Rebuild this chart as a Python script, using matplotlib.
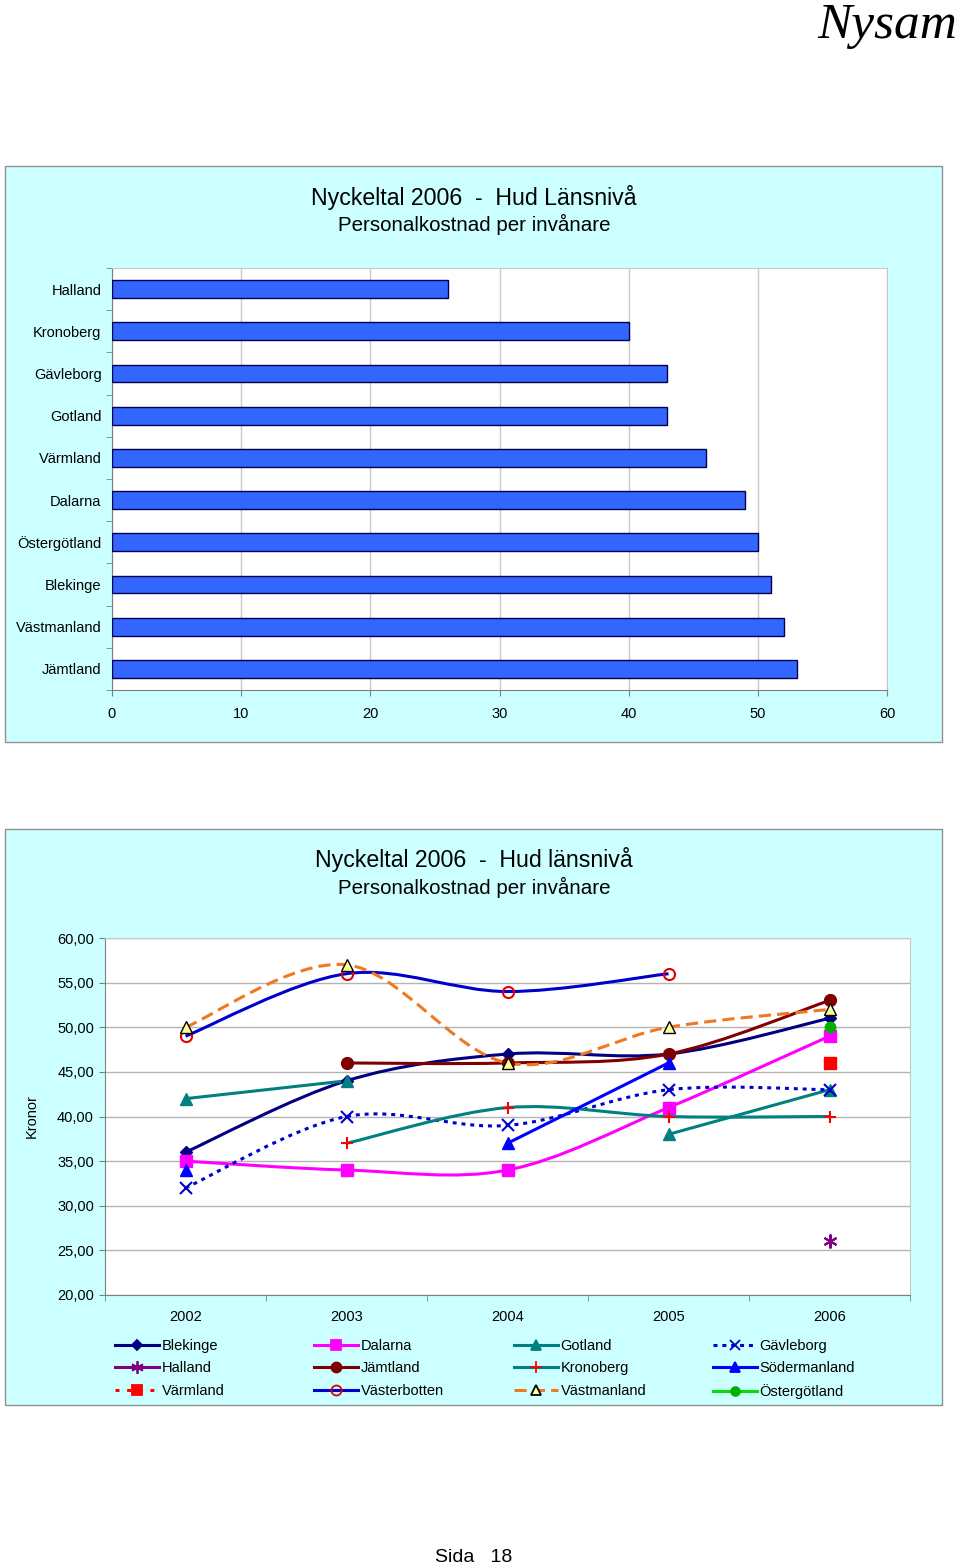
import numpy as np
import matplotlib
matplotlib.use("Agg")
import matplotlib.pyplot as plt
from matplotlib.patches import Rectangle, PathPatch
from matplotlib.path import Path
from matplotlib.lines import Line2D
from matplotlib.ticker import FixedLocator, FuncFormatter

plt.rcParams['font.family'] = ['Liberation Sans', 'DejaVu Sans']

W, H = 960, 1567
PANEL = '#CCFFFF'
nan = np.nan

# bar chart: 2006 values per county
lan_2006 = ['Halland', 'Kronoberg', 'Gävleborg', 'Gotland', 'Värmland',
            'Dalarna', 'Östergötland', 'Blekinge', 'Västmanland', 'Jämtland']
kost_2006 = [26, 40, 43, 43, 46, 49, 50, 51, 52, 53]

# line chart: 2002-2006 per county
years = ['2002', '2003', '2004', '2005', '2006']
blekinge = [36, 44, 47, 47, 51]
dalarna = [35, 34, 34, 41, 49]
gotland = [42, 44, nan, 38, 43]
gavleborg = [32, 40, 39, 43, 43]
halland = [nan, nan, nan, nan, 26]
jamtland = [nan, 46, 46, 47, 53]
kronoberg = [nan, 37, 41, 40, 40]
sodermanland = [34, nan, 37, 46, nan]
varmland = [nan, nan, nan, nan, 46]
vasterbotten = [49, 56, 54, 56, nan]
vastmanland = [50, 57, 46, 50, 52]
ostergotland = [nan, nan, nan, nan, 50]

# name, values, line colour, linestyle, marker, marker face, marker edge, marker size
series = [
    ('Blekinge', blekinge, '#000080', '-', 'D', '#000080', '#000080', 6),
    ('Dalarna', dalarna, '#FF00FF', '-', 's', '#FF00FF', '#FF00FF', 8),
    ('Gotland', gotland, '#008080', '-', '^', '#008080', '#008080', 8),
    ('Gävleborg', gavleborg, '#0000CC', (0, (1.3, 1.6)), 'x', '#0000CC', '#0000CC', 8),
    ('Halland', halland, '#800080', '-', (6, 2, 0), '#800080', '#800080', 10),
    ('Jämtland', jamtland, '#800000', '-', 'o', '#800000', '#800000', 8),
    ('Kronoberg', kronoberg, '#008080', '-', '+', '#FF0000', '#FF0000', 9),
    ('Södermanland', sodermanland, '#0000FF', '-', '^', '#0000FF', '#0000FF', 8),
    ('Värmland', varmland, '#FF0000', (0, (1.3, 2.5)), 's', '#FF0000', '#FF0000', 8),
    ('Västerbotten', vasterbotten, '#0000CC', '-', 'o', 'none', '#E00000', 8),
    ('Västmanland', vastmanland, '#F07820', (0, (4, 2)), '^', '#FFFF99', '#000000', 8),
    ('Östergötland', ostergotland, '#00E000', '-', 'o', '#00B000', '#00B000', 7),
]


def fx(px):
    return px / W


def fy(py):
    return 1 - py / H


def smooth_path(xs, ys):
    # Excel-style smoothed line: cubic bezier through the points
    verts = [(xs[0], ys[0])]
    codes = [Path.MOVETO]
    n = len(xs)
    for i in range(n - 1):
        a = i - 1 if i > 0 else i
        b = i + 2 if i + 2 < n else i + 1
        c1 = (xs[i] + (xs[i + 1] - xs[a]) / 6, ys[i] + (ys[i + 1] - ys[a]) / 6)
        c2 = (xs[i + 1] - (xs[b] - xs[i]) / 6, ys[i + 1] - (ys[b] - ys[i]) / 6)
        verts += [c1, c2, (xs[i + 1], ys[i + 1])]
        codes += [Path.CURVE4] * 3
    return Path(verts, codes)


fig = plt.figure(figsize=(W / 100, H / 100), dpi=100)

for top, bot in [(166, 742), (829, 1405)]:
    fig.add_artist(Rectangle((fx(5), fy(bot)), fx(942) - fx(5), fy(top) - fy(bot),
                             transform=fig.transFigure, facecolor=PANEL,
                             edgecolor='#909090', lw=1, zorder=-5))

fig.text(fx(957), fy(38), 'Nysam', family='Liberation Serif', style='italic',
         fontsize=37, ha='right', va='baseline')
fig.text(fx(474), fy(1557), 'Sida   18', fontsize=14, ha='center', va='center')

# ---- bar chart
ax1 = fig.add_axes([fx(112), fy(690), fx(887) - fx(112), fy(268) - fy(690)])
pos = np.arange(len(lan_2006))
ax1.barh(pos, kost_2006, height=0.42, color='#3366FF', edgecolor='#000050', lw=1, zorder=3)
ax1.set_xlim(0, 60)
ax1.set_ylim(len(lan_2006) - 0.5, -0.5)
ax1.set_xticks(range(0, 61, 10))
ax1.set_yticks(pos)
ax1.set_yticklabels(lan_2006)
ax1.yaxis.set_minor_locator(FixedLocator(np.arange(-0.5, len(lan_2006), 1)))
ax1.tick_params(axis='y', which='major', length=0, pad=7.5, labelsize=10.5)
ax1.tick_params(axis='y', which='minor', length=4, color='#808080')
ax1.tick_params(axis='x', length=4, color='#808080', pad=8, labelsize=10.5)
ax1.grid(axis='x', color='#C8C8C8', lw=1, zorder=0)
for s in ['top', 'right']:
    ax1.spines[s].set_color('#C8C8C8')
for s in ['left', 'bottom']:
    ax1.spines[s].set_color('#808080')
fig.text(fx(474), fy(197), 'Nyckeltal 2006  -  Hud Länsnivå', fontsize=16.7,
         ha='center', va='center')
fig.text(fx(474), fy(224), 'Personalkostnad per invånare', fontsize=14.8,
         ha='center', va='center')

# ---- line chart
ax2 = fig.add_axes([fx(105), fy(1295), fx(910) - fx(105), fy(938) - fy(1295)])
ax2.set_xlim(-0.5, len(years) - 0.5)
ax2.set_ylim(20, 60)
ax2.set_yticks(range(20, 61, 5))
ax2.yaxis.set_major_formatter(FuncFormatter(lambda v, p: f'{v:.2f}'.replace('.', ',')))
ax2.set_xticks(range(len(years)))
ax2.set_xticklabels(years)
ax2.xaxis.set_minor_locator(FixedLocator(np.arange(-0.5, len(years), 1)))
ax2.tick_params(axis='x', which='major', length=0, pad=11, labelsize=10.5)
ax2.tick_params(axis='x', which='minor', length=4, color='#808080')
ax2.tick_params(axis='y', length=4, color='#808080', pad=4, labelsize=10.5)
ax2.grid(axis='y', color='#B4B4B4', lw=1, zorder=0)
for s in ['top', 'right']:
    ax2.spines[s].set_color('#C8C8C8')
for s in ['left', 'bottom']:
    ax2.spines[s].set_color('#808080')
ax2.set_ylabel('Kronor', fontsize=10.5, labelpad=13)

handles = []
for name, vals, col, ls, mk, mfc, mec, ms in series:
    vals = np.array(vals, dtype=float)
    x = np.arange(len(vals))
    ok = ~np.isnan(vals)
    # split into runs of consecutive values
    run = []
    for i in range(len(vals) + 1):
        if i < len(vals) and ok[i]:
            run.append(i)
        else:
            if len(run) > 1:
                p = smooth_path(x[run], vals[run])
                ax2.add_patch(PathPatch(p, fill=False, edgecolor=col, lw=2.2,
                                        linestyle=ls, capstyle='butt', zorder=3))
            run = []
    ax2.plot(x[ok], vals[ok], ls='none', marker=mk, mfc=mfc, mec=mec, ms=ms,
             mew=1.5 if mk in ('x', '+', (6, 2, 0), 'o') else 1, zorder=4)
    handles.append(Line2D([], [], color=col, ls=ls, lw=2.2, marker=mk, mfc=mfc,
                          mec=mec, ms=ms * 0.9, mew=1.3, label=name))

fig.text(fx(474), fy(860), 'Nyckeltal 2006  -  Hud länsnivå', fontsize=16.7,
         ha='center', va='center')
fig.text(fx(474), fy(887), 'Personalkostnad per invånare', fontsize=14.8,
         ha='center', va='center')

for c, xpx in enumerate([115, 314, 514, 713]):
    hs = handles[c::4]
    fig.legend(handles=hs, loc='upper left', bbox_to_anchor=(fx(xpx), fy(1339)),
               frameon=False, fontsize=10.5, borderaxespad=0, borderpad=0,
               handlelength=3.0, handletextpad=0.2, labelspacing=0.58)

fig.savefig('out.png', dpi=100)
